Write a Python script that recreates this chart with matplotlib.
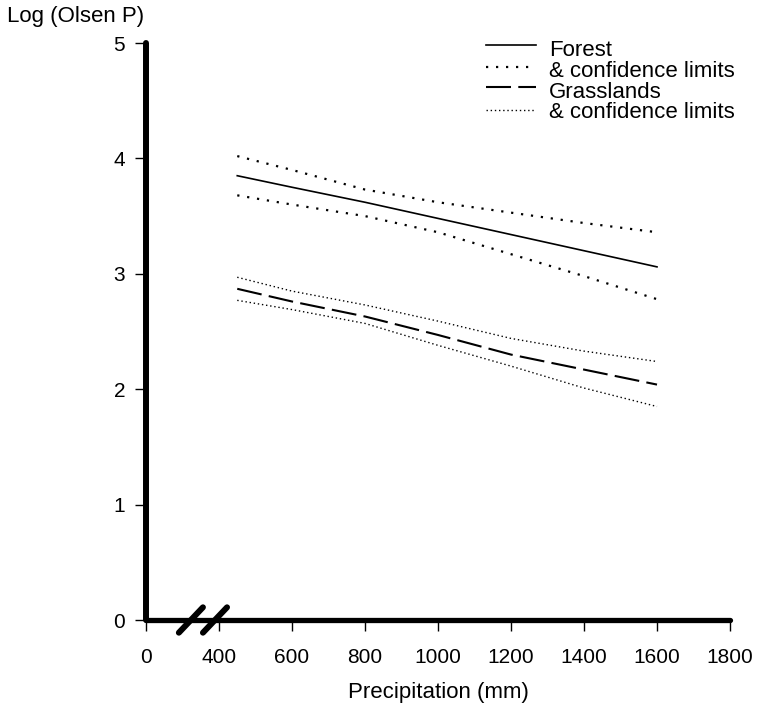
import numpy as np
import matplotlib.pyplot as plt
from matplotlib.lines import Line2D

plt.rcParams['font.family'] = ['Liberation Sans', 'DejaVu Sans']

# 数据
precip = [450, 600, 800, 1000, 1200, 1400, 1600]
forest = [3.85, 3.75, 3.62, 3.48, 3.34, 3.20, 3.06]
forest_hi = [4.02, 3.90, 3.73, 3.62, 3.53, 3.44, 3.36]
forest_lo = [3.68, 3.60, 3.50, 3.36, 3.17, 2.98, 2.78]
grass = [2.87, 2.76, 2.63, 2.47, 2.30, 2.17, 2.04]
grass_hi = [2.97, 2.85, 2.73, 2.59, 2.44, 2.33, 2.24]
grass_lo = [2.77, 2.69, 2.57, 2.38, 2.20, 2.01, 1.85]

# 断轴: 0 放在 200 的位置
xticks = [200, 400, 600, 800, 1000, 1200, 1400, 1600, 1800]
xticklabels = ['0', '400', '600', '800', '1000', '1200', '1400', '1600', '1800']
yticks = [0, 1, 2, 3, 4, 5]
legend_labels = ['Forest', '& confidence limits', 'Grasslands', '& confidence limits']

W, H = 758, 705
fig = plt.figure(figsize=(W / 100, H / 100), dpi=100)
ax = fig.add_axes([146 / W, 1 - 620 / H, (730 - 146) / W, (620 - 43) / H])

styles = [
    dict(color='black', lw=1.2),
    dict(color='black', lw=1.6, dashes=(1, 3.5)),
    dict(color='black', lw=1.5, dashes=(12, 3.5)),
    dict(color='black', lw=1.0, dashes=(1, 2)),
]

ax.plot(precip, forest, **styles[0])
ax.plot(precip, forest_hi, **styles[1])
ax.plot(precip, forest_lo, **styles[1])
ax.plot(precip, grass, **styles[2])
ax.plot(precip, grass_hi, **styles[3])
ax.plot(precip, grass_lo, **styles[3])

ax.set_xlim(200, 1800)
ax.set_ylim(0, 5)
ax.set_xticks(xticks)
ax.set_xticklabels(xticklabels)
ax.set_yticks(yticks)
ax.tick_params(axis='both', labelsize=15, direction='out', length=8, width=1)
ax.tick_params(axis='x', pad=12)
ax.tick_params(axis='y', pad=7)

for side in ['top', 'right']:
    ax.spines[side].set_visible(False)
ax.spines['left'].set_linewidth(4.3)
ax.spines['bottom'].set_linewidth(3.8)
for side in ['left', 'bottom']:
    ax.spines[side].set_capstyle('round')

# 断轴标记
for xb in [323, 389]:
    ax.plot([xb - 33, xb + 33], [-0.11, 0.11], color='black', lw=4.3,
            solid_capstyle='round', clip_on=False, zorder=5)

ax.set_xlabel('Precipitation (mm)', fontsize=16, labelpad=11)
fig.text(7 / W, 1 - 22 / H, 'Log (Olsen P)', fontsize=16, ha='left', va='baseline')

# 图例 (手动排版)
handle_y = [45, 66.5, 87, 110]
text_base = [56, 77, 97.5, 118.5]
for st, lab, hy, tb in zip(styles, legend_labels, handle_y, text_base):
    fig.add_artist(Line2D([486 / W, 536 / W], [1 - hy / H, 1 - hy / H],
                          transform=fig.transFigure, **st))
    fig.text(549 / W, 1 - tb / H, lab, fontsize=16, ha='left', va='baseline')

plt.savefig('out.png', dpi=100)
